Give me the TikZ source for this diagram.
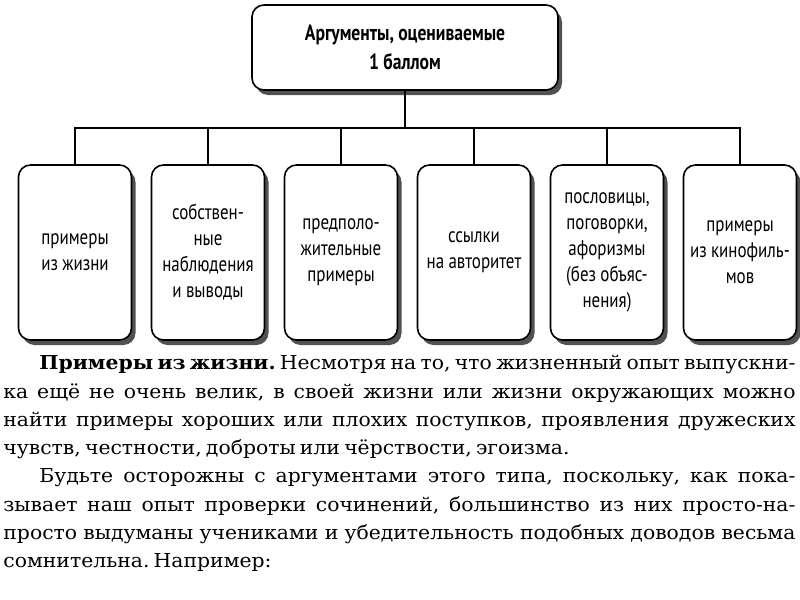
\documentclass[tikz,border=0pt]{standalone}
\usepackage{fontspec}
\setmainfont[FakeStretch=1.06]{DejaVu Serif}
\newfontfamily\boxfont[FakeStretch=0.8,WordSpace=0.95]{PT Sans}
\usetikzlibrary{shadows}
\newcommand\tightspaces{\spaceskip=0.22em plus 0.6em minus 0.1em\relax}
\tikzset{
  argbox/.style={draw=black,fill=white,rounded corners=6pt,line width=0.8pt,
    drop shadow={shadow xshift=2pt,shadow yshift=-2.5pt,fill=black!80,opacity=0.85},
    align=flush center,inner sep=1pt,font=\boxfont\fontsize{10.6}{13}\selectfont},
  headbox/.style={argbox,minimum width=153pt,minimum height=42.5pt,
    font=\boxfont\bfseries\fontsize{11}{14.5}\selectfont},
  kindbox/.style={argbox,minimum width=56.5pt,minimum height=87.5pt,text width=54pt},
  link/.style={line width=0.75pt},
  bodytext/.style={text width=396pt,align=justify,inner sep=0pt,
    font=\fontsize{9.6}{14.15}\selectfont\frenchspacing\tightspaces},
}
\begin{document}
\begin{tikzpicture}[x=0.5pt,y=-0.5pt]
  \useasboundingbox (0,0) rectangle (800,600);
  \node[headbox] (head) at (405,47.5){Аргументы, оцениваемые\\1 баллом};
  \coordinate (bus) at (405,128);
  \node[kindbox] (k1) at (75,252.5){примеры\\из жизни};
  \node[kindbox] (k2) at (208,252.5){собствен-\\ные\\наблюдения\\и выводы};
  \node[kindbox] (k3) at (341,252.5){предполо-\\жительные\\примеры};
  \node[kindbox] (k4) at (474,252.5){ссылки\\на авторитет};
  \node[kindbox] (k5) at (607,252.5){пословицы,\\поговорки,\\афоризмы\\(без объяс-\\нения)};
  \node[kindbox] (k6) at (740,252.5){примеры\\из кинофиль-\\мов};
  \draw[link] (head) -- (bus);
  \foreach \i in {1,...,6} \draw[link] (k\i.north) |- (bus);
  \node[bodytext,anchor=north west] (txt) at (3,355){%
    \hspace*{18pt}\textbf{Примеры из жизни.} Несмотря на то, что жизненный опыт выпускни-\linebreak
    ка ещё не очень велик, в своей жизни или жизни окружающих можно\linebreak
    найти примеры хороших или плохих поступков, проявления дружеских\linebreak
    чувств, честности, доброты или чёрствости, эгоизма.\par
    \hspace*{18pt}Будьте осторожны с аргументами этого типа, поскольку, как пока-\linebreak
    зывает наш опыт проверки сочинений, большинство из них просто-на-\linebreak
    просто выдуманы учениками и убедительность подобных доводов весьма\linebreak
    сомнительна. Например:};
\end{tikzpicture}
\end{document}
